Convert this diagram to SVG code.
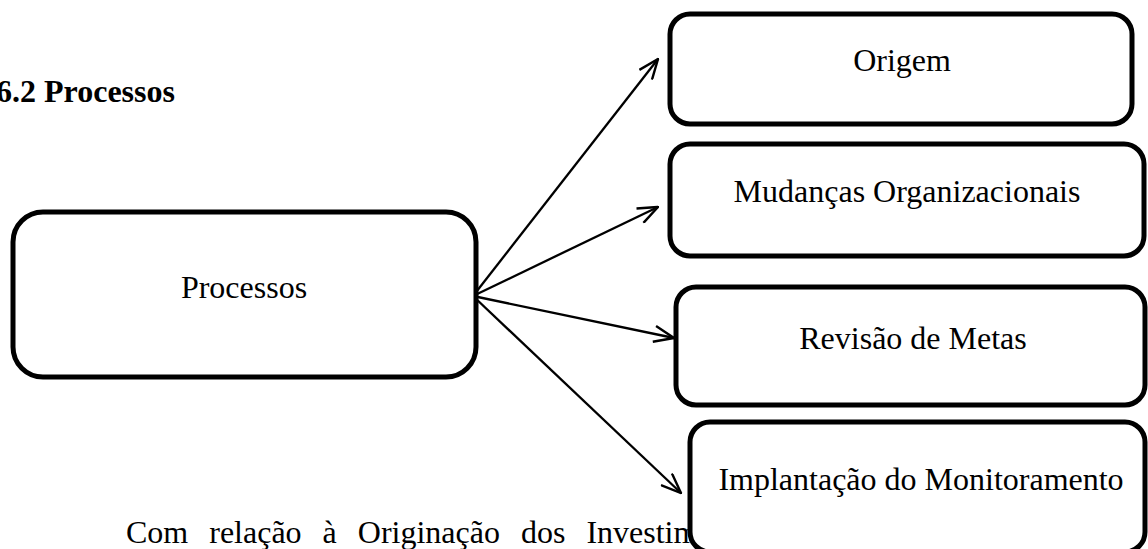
<svg xmlns="http://www.w3.org/2000/svg" width="1148" height="549" viewBox="0 0 1148 549">
<style>
.box{fill:#fff;stroke:#000;stroke-width:5}
.lbl{font-family:"Liberation Serif","Times New Roman",serif;font-size:32px;fill:#000;text-anchor:middle}
.body{font-family:"Liberation Serif","Times New Roman",serif;font-size:32px;fill:#000}
.conn{stroke:#000;stroke-width:2.3;fill:none;marker-end:url(#arr)}
</style>
<defs>
<marker id="arr" markerUnits="userSpaceOnUse" viewBox="0 0 22 18" refX="21" refY="9" markerWidth="22" markerHeight="18" orient="auto">
<path d="M1,1 L21,9 L1,17" fill="none" stroke="#000" stroke-width="2.4"/>
</marker>
</defs>
<rect width="1148" height="549" fill="#fff"/>
<text x="-4" y="102" class="body" font-weight="bold">6.2 Processos</text>
<text x="126" y="543" class="body" word-spacing="13">Com relação à Originação dos Investim</text>
<g id="connectors">
<line class="conn" x1="473" y1="296" x2="658" y2="59"/>
<line class="conn" x1="473" y1="296" x2="658" y2="207"/>
<line class="conn" x1="473" y1="296" x2="674" y2="338"/>
<line class="conn" x1="473" y1="296" x2="681" y2="493"/>
</g>
<g id="node-processos">
<rect class="box" x="13" y="212" width="463" height="165" rx="30"/>
<text class="lbl" x="244" y="298">Processos</text>
</g>
<g id="node-origem">
<rect class="box" x="670" y="14" width="462" height="110" rx="20"/>
<text class="lbl" x="902" y="71">Origem</text>
</g>
<g id="node-mudancas">
<rect class="box" x="670" y="144" width="474" height="112" rx="20"/>
<text class="lbl" x="907" y="202">Mudanças Organizacionais</text>
</g>
<g id="node-revisao">
<rect class="box" x="676" y="287" width="469" height="118" rx="20"/>
<text class="lbl" x="913" y="349">Revisão de Metas</text>
</g>
<g id="node-implantacao">
<rect class="box" x="690" y="422" width="455" height="130" rx="20"/>
<text class="lbl" x="921" y="490">Implantação do Monitoramento</text>
</g>
</svg>
